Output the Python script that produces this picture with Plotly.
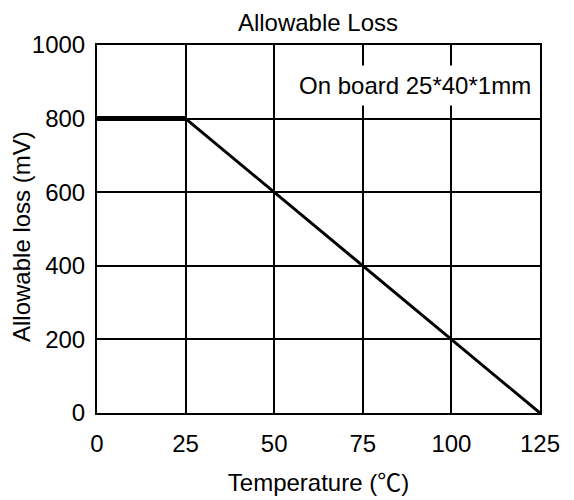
import plotly.graph_objects as go

flat_x = [0, 25]
flat_y = [800, 800]
slope_x = [25, 125]
slope_y = [800, 0]
x_ticks = [0, 25, 50, 75, 100, 125]
y_ticks = [0, 200, 400, 600, 800, 1000]

font = "Liberation Sans, Arial, Noto Sans CJK SC, sans-serif"
FS = 24

fig = go.Figure()
fig.add_trace(go.Scatter(x=flat_x, y=flat_y, mode="lines",
                         line=dict(color="black", width=5), showlegend=False))
fig.add_trace(go.Scatter(x=slope_x, y=slope_y, mode="lines",
                         line=dict(color="black", width=3), showlegend=False))

fig.add_annotation(x=125, y=891, xref="x", yref="y", xanchor="right", yanchor="middle",
                   text="On board 25*40*1mm", showarrow=False, bgcolor="white",
                   font=dict(family=font, size=FS, color="black"), borderpad=6, xshift=-2)

fig.add_annotation(x=0, y=0.5, xref="paper", yref="paper", xanchor="center", yanchor="middle",
                   text="Allowable loss (mV)", textangle=-90, showarrow=False,
                   xshift=-76, yshift=-8, font=dict(family=font, size=FS, color="black"))

fig.update_layout(
    width=574, height=500,
    margin=dict(l=89, r=42, t=37, b=95),
    paper_bgcolor="white", plot_bgcolor="white",
    title=dict(text="Allowable Loss", x=0.54, xanchor="center", y=0.97, yanchor="middle",
               font=dict(family=font, size=FS, color="black")),
    font=dict(family=font, size=FS, color="black"),
    xaxis=dict(range=[0, 125], tickvals=x_ticks, showgrid=True, gridcolor="black", gridwidth=2,
               showline=True, linecolor="black", linewidth=2, mirror=True, zeroline=False,
               ticks="", ticklabelstandoff=8,
               title=dict(text="Temperature (<span style='font-family:Noto Sans CJK SC'>℃</span>)",
                          standoff=18,
                          font=dict(family=font, size=FS, color="black"))),
    yaxis=dict(range=[0, 1000], tickvals=y_ticks, showgrid=True, gridcolor="black", gridwidth=2,
               showline=True, linecolor="black", linewidth=2, mirror=True, zeroline=False,
               ticks="", ticklabelstandoff=5),
)

fig.write_html("out.html")
